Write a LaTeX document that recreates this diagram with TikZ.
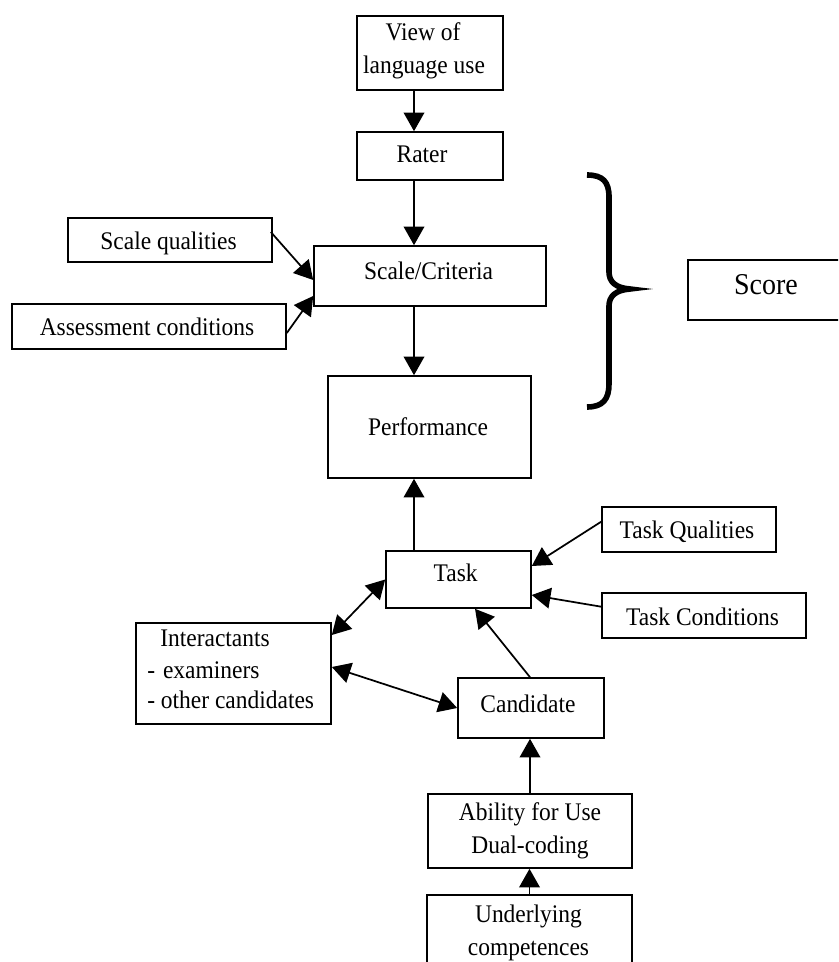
\documentclass[tikz,border=0pt]{standalone}
\usepackage{fontspec}
\setmainfont{Liberation Serif}
\usetikzlibrary{calc,arrows.meta}
\newcommand\vst[1]{\scalebox{1}[1.08]{#1}}
\tikzset{
  box/.style={draw, line width=1.2pt, inner sep=0pt, rectangle},
  sz/.style 2 args={minimum width=#1*0.75pt, minimum height=#2*0.75pt},
  lbl/.style={anchor=base, inner sep=0pt, font=\fontsize{17.6pt}{21pt}\selectfont},
  lblw/.style={anchor=base west, inner sep=0pt, font=\fontsize{17.6pt}{21pt}\selectfont},
  big/.style={anchor=base, inner sep=0pt, font=\fontsize{21pt}{25pt}\selectfont},
  conn/.style={line width=1.3pt, -{Triangle[width=15.5pt,length=14pt]}},
  dconn/.style={line width=1.3pt, {Triangle[width=15.5pt,length=14pt]}-{Triangle[width=15.5pt,length=14pt]}},
  bracestyle/.style={line width=4.2pt, line cap=butt, line join=miter},
}
\begin{document}
\begin{tikzpicture}[x=0.75pt, y=-0.75pt]
\useasboundingbox (0,0) rectangle (838,962);
\clip (0,0) rectangle (838,962);
% boxes
\node[box, sz={146}{74}] (view) at (430,53) {};
\node[box, sz={146}{48}] (rater) at (430,156) {};
\node[box, sz={232}{60}] (crit) at (430,276) {};
\node[box, sz={204}{44}] (sq) at (170,240) {};
\node[box, sz={274}{45}] (ac) at (149,326.5) {};
\node[box, sz={203}{102}] (perf) at (429.5,427) {};
\node[box, sz={145}{57}] (task) at (458.5,579.5) {};
\node[box, sz={174}{45}] (tq) at (689,529.5) {};
\node[box, sz={204}{45}] (tc) at (704,615.5) {};
\node[box, sz={195}{101}] (inter) at (233.5,673.5) {};
\node[box, sz={146}{60}] (cand) at (531,708) {};
\node[box, sz={204}{74}] (abil) at (530,831) {};
\node[box, sz={205}{90}] (under) at (529.5,940) {};
\node[box, sz={172}{60}] (score) at (774,290) {};
% texts
\node[lbl] (t-view1) at (423,41) {\vst{View of}};
\node[lbl] (t-view2) at (424,74) {\vst{language use}};
\node[lbl] (t-rater) at (422,163) {\vst{Rater}};
\node[lbl] (t-crit) at (428.6,280) {\vst{Scale/Criteria}};
\node[lbl] (t-sq) at (168.5,250) {\vst{Scale qualities}};
\node[lbl] (t-ac) at (147,335) {\vst{Assessment conditions}};
\node[lbl] (t-perf) at (428,435) {\vst{Performance}};
\node[lbl] (t-task) at (455.7,581) {\vst{Task}};
\node[lbl] (t-tq) at (687,538) {\vst{Task Qualities}};
\node[lbl] (t-tc) at (702.6,625) {\vst{Task Conditions}};
\node[lbl] (t-inter1) at (215,646) {\vst{Interactants}};
\node[lblw] (t-inter2) at (147,678) {\vst{-\hspace{6pt}examiners}};
\node[lblw] (t-inter3) at (147,708) {\vst{- other candidates}};
\node[lbl] (t-cand) at (528,712) {\vst{Candidate}};
\node[lbl] (t-abil1) at (530,820) {\vst{Ability for Use}};
\node[lbl] (t-abil2) at (530,853) {\vst{Dual-coding}};
\node[lbl] (t-under1) at (528.5,922) {\vst{Underlying}};
\node[lbl] (t-under2) at (528.5,955) {\vst{competences}};
\node[big] (t-score) at (766,295) {\vst{Score}};
% connectors
\draw[conn] ($(view.south)+(-16,0)$) -- ($(rater.north)+(-16,0)$);
\draw[conn] ($(rater.south)+(-16,0)$) -- ($(crit.north)+(-16,0)$);
\draw[conn] ($(sq.east)+(-2,-8)$) -- ($(crit.west)+(0,4)$);
\draw[conn] ($(ac.east)+(0,6.5)$) -- ($(crit.west)+(0,20)$);
\draw[conn] ($(crit.south)+(-16,0)$) -- ($(perf.north)+(-15.5,0)$);
\draw[conn] ($(task.north)+(-44.5,0)$) -- ($(perf.south)+(-15.5,0)$);
\draw[conn] ($(tq.west)+(0,-7.8)$) -- ($(task.east)+(0,-13.5)$);
\draw[conn] ($(tc.west)+(0,-8.8)$) -- ($(task.east)+(0,15.5)$);
\draw[conn] ($(cand.north)+(-1,0)$) -- ($(task.south)+(16.5,0)$);
\draw[dconn] ($(inter.east)+(0,-38.5)$) -- (task.west);
\draw[dconn] ($(inter.east)+(0,-6.5)$) -- (cand.west);
\draw[conn] (abil.north) -- (abil.north |- cand.south);
\draw[conn] (under.north) -- (under.north |- abil.south);
% brace
\draw[bracestyle] (587,175) .. controls (603,175) and (609,182) .. (609,197)
  -- (609,272) .. controls (609,282) and (616,288) .. (630,289)
  .. controls (616,290) and (609,296) .. (609,306)
  -- (609,384) .. controls (609,399) and (603,407) .. (587,407);
\end{tikzpicture}
\end{document}
